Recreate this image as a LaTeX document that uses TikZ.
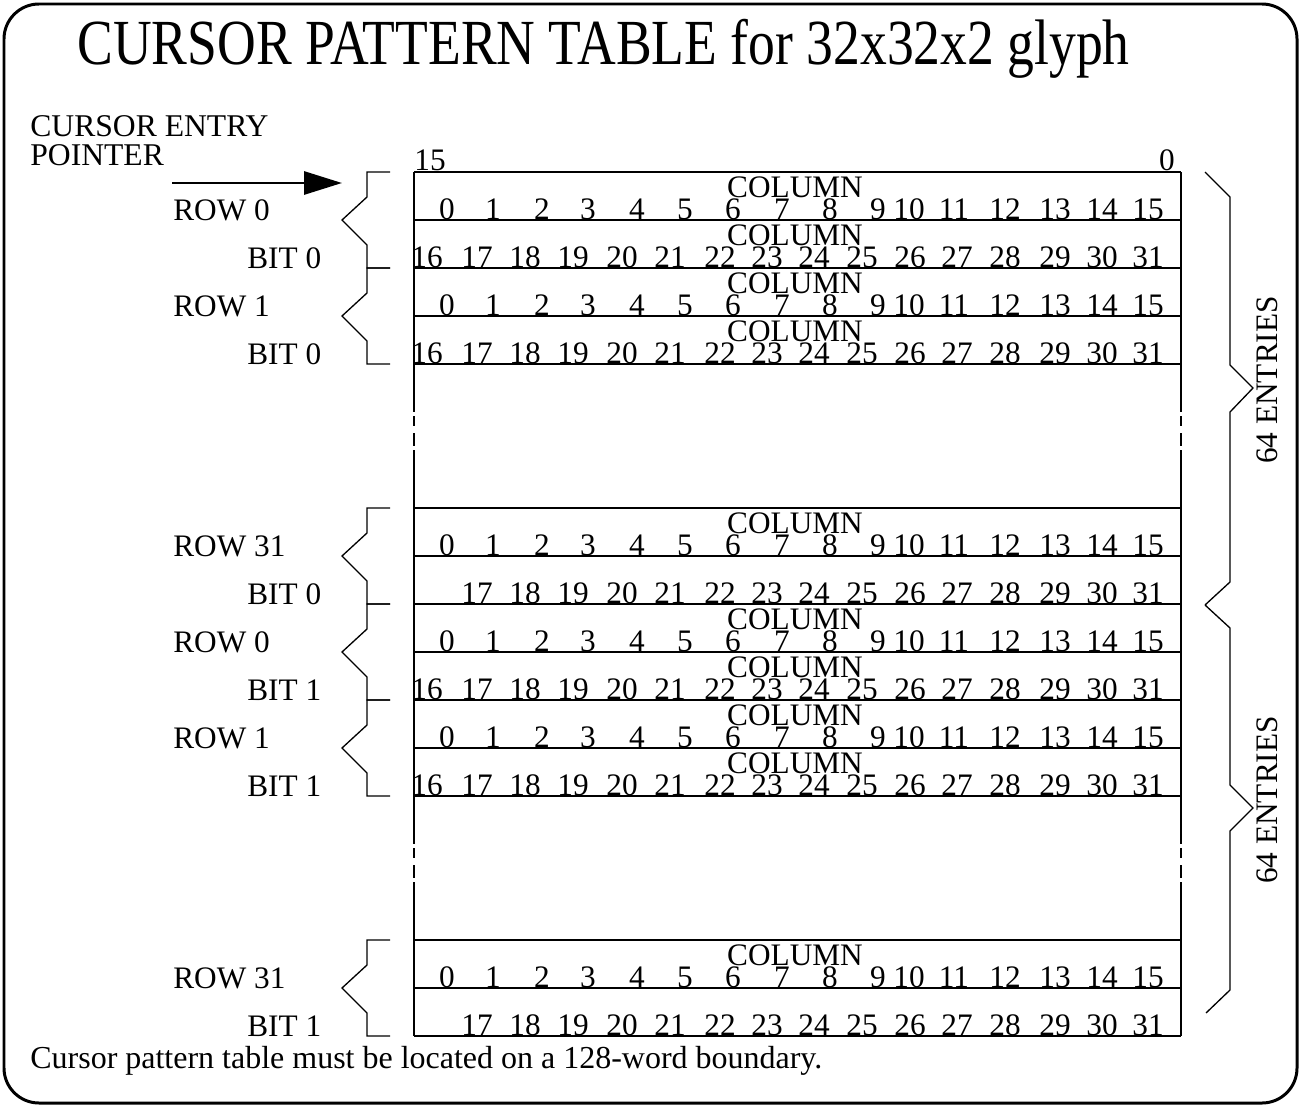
\documentclass[tikz,border=0pt]{standalone}
\usepackage{fontspec}
\usepackage{graphicx}
\setmainfont{Liberation Serif}
\usetikzlibrary{arrows.meta}
\tikzset{
  lbl/.style={anchor=base west, inner sep=0pt, font=\fontsize{17.8}{21}\selectfont},
  num/.style={anchor=base, inner sep=0pt, font=\fontsize{17.8}{21}\selectfont},
  tabline/.style={line width=0.75pt},
  brk/.style={line width=0.75pt},
  arrow/.style={-{Triangle[length=7.6mm,width=4.6mm]}, line width=1.7pt},
}
\begin{document}
\begin{tikzpicture}[x=0.2mm, y=-0.2mm]
  \useasboundingbox (0,0) rectangle (1301,1107);
  \draw[line width=1.7pt, rounded corners=7mm] (4,4) rectangle (1297,1103);
  \node[lbl, font=\fontsize{30.5}{36}\selectfont] (title) at (77,65) {\scalebox{1}[1.2]{CURSOR PATTERN TABLE for 32x32x2 glyph}};

  % entry pointer
  \node[lbl, font=\fontsize{18}{21}\selectfont] (entry) at (30,136) {CURSOR ENTRY};
  \node[lbl, font=\fontsize{18}{21}\selectfont] (pointer) at (30,165) {POINTER};
  \coordinate (ptail) at (172,183);
  \coordinate (phead) at (342,183);
  \draw[arrow] (ptail) -- (phead);

  % bit numbers above the table
  \node[num] (msb) at (430,170) {15};
  \node[num] (lsb) at (1167,170) {0};

  % table lines
  \foreach \y in {172,220,268,316,364,508,556,604,652,700,748,796,940,988,1036}
    \draw[tabline] (414,\y) -- (1181,\y);
  \foreach \x in {414,1181} {
    \draw[tabline] (\x,172) -- (\x,364);
    \draw[tabline] (\x,508) -- (\x,796);
    \draw[tabline] (\x,940) -- (\x,1036);
    \foreach \g in {364,796}
      \foreach \a/\b in {0/48,52/62,69/82,86/144}
        \draw[tabline] (\x,\g+\a) -- (\x,\g+\b);
  }

  % columns 0-15
  \foreach \t in {172,268,508,604,700,940} {
    \node[num] (col-\t) at (795,\t+25) {COLUMN};
    \foreach \n/\x in {0/447,1/493,2/542,3/588,4/637,5/685,6/733,7/782,8/830,9/878,10/909,11/954,12/1005,13/1055,14/1102,15/1148}
      \node[num] (c\n-\t) at (\x,\t+47) {\n};
  }
  % columns 16-31
  \foreach \t in {220,316,652,748} {
    \node[num] (col-\t) at (795,\t+25) {COLUMN};
    \foreach \n/\x in {16/427,17/477,18/525,19/573,20/622,21/670,22/720,23/767,24/814,25/862,26/910,27/957,28/1005,29/1055,30/1102,31/1148}
      \node[num] (c\n-\t) at (\x,\t+47) {\n};
  }
  % last rows, no column 16
  \foreach \t in {556,988} {
    \foreach \n/\x in {17/477,18/525,19/573,20/622,21/670,22/720,23/767,24/814,25/862,26/910,27/957,28/1005,29/1055,30/1102,31/1148}
      \node[num] (c\n-\t) at (\x,\t+47) {\n};
  }

  % left brackets and row labels
  \foreach \t/\r/\b in {172/0/0,268/1/0,508/31/0,604/0/1,700/1/1,940/31/1} {
    \draw[brk] (390,\t) -- (367,\t) -- (367,\t+25) -- (342,\t+48) -- (367,\t+73) -- (367,\t+96) -- (390,\t+96);
    \node[lbl] (row-\t) at (173,\t+48) {ROW \r};
    \node[lbl] (bit-\t) at (247,\t+96) {BIT \b};
  }

  % right braces
  \draw[brk] (1205,172) -- (1230,197) -- (1230,365) -- (1253,388) -- (1230,412) -- (1230,582) -- (1205,605);
  \draw[brk] (1205,605) -- (1230,628) -- (1230,785) -- (1253,808) -- (1230,831) -- (1230,990) -- (1206,1013);
  \node[num, rotate=90] (ent1) at (1277,380) {64 ENTRIES};
  \node[num, rotate=90] (ent2) at (1277,800) {64 ENTRIES};

  \node[lbl, font=\fontsize{18.2}{21}\selectfont] (note) at (30,1068) {Cursor pattern table must be located on a 128-word boundary.};
\end{tikzpicture}
\end{document}
